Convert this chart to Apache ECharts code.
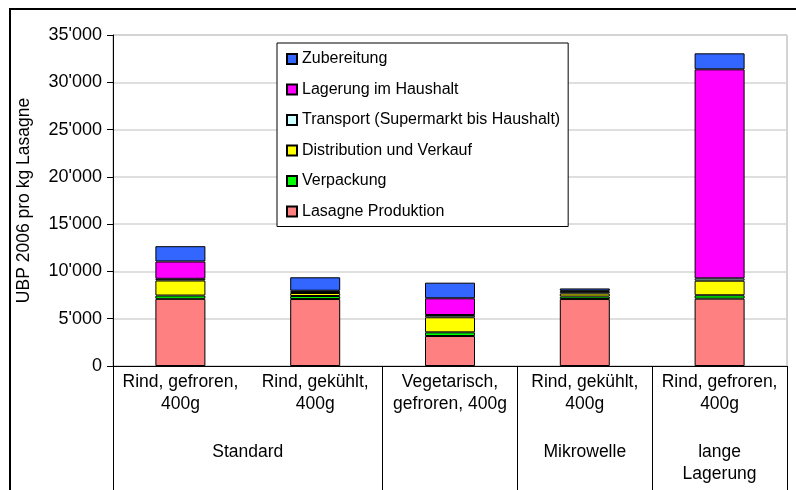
<!DOCTYPE html>
<html>
<head>
<meta charset="utf-8">
<script src="https://cdn.jsdelivr.net/npm/echarts@6/dist/echarts.min.js"></script>
<style>
  html, body { margin: 0; padding: 0; background: #fff; overflow: hidden; }
  #chart { position: absolute; left: 0; top: 0; width: 796px; height: 490px; }
  #frame { position: absolute; left: 9px; top: 8px; width: 820px; height: 520px;
           border: 2px solid #000; pointer-events: none; }
</style>
</head>
<body>
<div id="chart"></div>
<div id="frame"></div>
<script>
// categories (first level) and group labels (second level)
var categories = ['Rind, gefroren,\n400g', 'Rind, gekühlt,\n400g', 'Vegetarisch,\ngefroren, 400g',
                  'Rind, gekühlt,\n400g', 'Rind, gefroren,\n400g'];
var groupLabels = ['', '', 'Standard', '', '', '', '', 'Mikrowelle', '', 'lange\nLagerung', ''];
var groupBorders = [0, 4, 6, 8, 10];

// stacked values, UBP 2006 pro kg Lasagne
var produktion   = [7100, 7080, 3170, 7080, 7120];
var verpackung   = [350, 320, 390, 270, 360];
var distribution = [1590, 320, 1590, 320, 1540];
var transport    = [180, 120, 240, 180, 250];
var lagerung     = [1830, 120, 1770, 100, 22100];
var zubereitung  = [1620, 1420, 1650, 250, 1690];

var yTicks = { min: 0, max: 35000, interval: 5000 };

var font = "'Liberation Sans', Arial, sans-serif";

function bar(name, data, color) {
    return {
        name: name,
        type: 'bar',
        stack: 'total',
        barWidth: 50,
        xAxisIndex: 0,
        data: data,
        itemStyle: { color: color, borderColor: '#000', borderWidth: 1 }
    };
}

var myChart = echarts.init(document.getElementById('chart'));

var option = {
    animation: false,
    textStyle: { fontFamily: font },
    grid: {
        left: 113, right: 9, top: 35, bottom: 124,
        show: true, borderColor: '#a8a8a8', borderWidth: 1
    },
    legend: {
        orient: 'vertical',
        left: 277, top: 43,
        padding: [8, 8, 7, 9],
        itemGap: 14.5,
        itemWidth: 10, itemHeight: 10,
        backgroundColor: '#fff',
        borderColor: '#000', borderWidth: 1,
        icon: 'rect',
        textStyle: { fontSize: 16, color: '#000', lineHeight: 16, fontFamily: font },
        data: ['Zubereitung', 'Lagerung im Haushalt', 'Transport (Supermarkt bis Haushalt)',
               'Distribution und Verkauf', 'Verpackung', 'Lasagne Produktion']
    },
    xAxis: [
        {
            type: 'category',
            data: categories,
            boundaryGap: true,
            axisLine: { lineStyle: { color: '#000', width: 1 } },
            axisTick: { length: 66, lineStyle: { color: '#000' } },
            axisLabel: { interval: 0, fontSize: 17.5, color: '#000', lineHeight: 22, margin: 5, fontFamily: font }
        },
        {
            type: 'category',
            position: 'bottom',
            data: groupLabels,
            boundaryGap: false,
            axisLine: { show: false },
            axisTick: {
                length: 124,
                interval: function (idx) { return groupBorders.indexOf(idx) >= 0; },
                lineStyle: { color: '#000' }
            },
            axisLabel: { interval: 0, fontSize: 17.5, color: '#000', lineHeight: 22, margin: 75, fontFamily: font }
        }
    ],
    yAxis: {
        type: 'value',
        min: yTicks.min, max: yTicks.max, interval: yTicks.interval,
        name: 'UBP 2006 pro kg Lasagne',
        nameLocation: 'middle',
        nameGap: 80,
        nameTextStyle: { fontSize: 17.5, color: '#000', fontFamily: font },
        axisLine: { show: true, lineStyle: { color: '#000' } },
        axisTick: { show: true, length: 6, lineStyle: { color: '#000' } },
        splitLine: { lineStyle: { color: '#d4d4d4', width: 1.5 } },
        axisLabel: {
            fontSize: 18, color: '#000', margin: 11, fontFamily: font,
            formatter: function (v) { return String(v).replace(/\B(?=(\d{3})+(?!\d))/g, "'"); }
        }
    },
    series: [
        bar('Lasagne Produktion', produktion, '#FF8080'),
        bar('Verpackung', verpackung, '#00FF00'),
        bar('Distribution und Verkauf', distribution, '#FFFF00'),
        bar('Transport (Supermarkt bis Haushalt)', transport, '#CCFFFF'),
        bar('Lagerung im Haushalt', lagerung, '#FF00FF'),
        bar('Zubereitung', zubereitung, '#3366FF')
    ]
};

myChart.setOption(option);
</script>
</body>
</html>
